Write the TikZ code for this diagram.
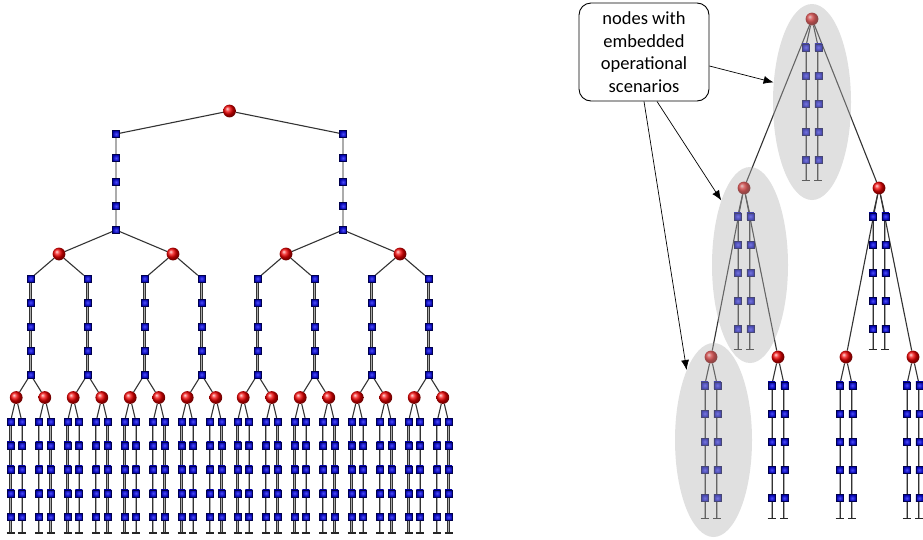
\documentclass[tikz,border=0pt]{standalone}
\usepackage{fontspec}
\setmainfont{Carlito}
\usetikzlibrary{arrows.meta,shapes.geometric}
\pgfdeclarelayer{bg}
\pgfdeclarelayer{fg}
\pgfsetlayers{bg,main,fg}
\tikzset{
  ballnode/.style={circle, inner sep=0pt, minimum size=12.8pt, shading=ball, ball color=red!95!black},
  sqnode/.style={rectangle, inner sep=0pt, minimum size=7pt, draw=blue!30!black, line width=0.4pt,
                 inner color=blue!70!white, outer color=blue!65!black},
  tube/.style={draw=black!80, line width=0.6pt, double=gray!65, double distance=1.1pt},
  twig/.style={draw=black!80, line width=1.1pt},
  endbar/.style={draw=black!85, line width=1.1pt},
  halo/.style={ellipse, inner sep=0pt, fill=black!30, fill opacity=0.4, draw=none},
  pointer/.style={draw=black, line width=0.7pt, -{Latex[length=10pt,width=8pt]}},
  callout/.style={draw=black, line width=0.9pt, rounded corners=12pt, minimum width=130pt,
                  minimum height=98pt, align=center, inner sep=0pt,
                  font=\fontsize{18.5}{22.5}\selectfont}
}
\begin{document}
\begin{tikzpicture}[x=1pt,y=-1pt]
\useasboundingbox (0,0) rectangle (923,539);

% ---------- binary tree with scenario chains between the decision nodes ----------
\node[ballnode] (L) at (229.5,111) {};
\foreach \ia/\xa in {1/116,2/343}{
  \foreach \k in {1,...,5} \node[sqnode] (L\ia-\k) at (\xa,{134+24*(\k-1)}) {};
  \foreach \ib/\pb in {1/-1,2/1}{
    \pgfmathsetmacro\xb{\xa+57*\pb}
    \node[ballnode] (L\ia\ib) at (\xb,254) {};
    \foreach \ic/\pc in {1/-1,2/1}{
      \pgfmathsetmacro\xc{\xb+28.5*\pc}
      \foreach \k in {1,...,5} \node[sqnode] (L\ia\ib\ic-\k) at (\xc,{278.5+24*(\k-1)}) {};
      \foreach \id/\pd in {1/-1,2/1}{
        \pgfmathsetmacro\xd{\xc+14.3*\pd}
        \node[ballnode] (L\ia\ib\ic\id) at (\xd,397.5) {};
        \foreach \ie/\pe in {1/-1,2/1}{
          \pgfmathsetmacro\xe{\xd+5.7*\pe}
          \foreach \k in {1,...,5} \node[sqnode] (L\ia\ib\ic\id\ie-\k) at (\xe,{421.5+23.9*(\k-1)}) {};
          \coordinate (L\ia\ib\ic\id\ie-end) at (\xe,533);
        }
      }
    }
  }
}

% ---------- tree with scenarios embedded in the nodes ----------
\foreach \n/\bx/\by in {T/812/19, Ta/744/188, Tb/879/188, Taa/711/357, Tab/778/357, Tba/846/357, Tbb/913/357}{
  \node[ballnode] (\n) at (\bx,\by) {};
  \foreach \ie/\pe in {1/-1,2/1}{
    \pgfmathsetmacro\xe{\bx+6.3*\pe}
    \foreach \k in {1,...,5} \node[sqnode] (\n-\ie-\k) at (\xe,{\by+28.3+28.2*(\k-1)}) {};
    \coordinate (\n-\ie-end) at (\xe,{\by+28.3+28.2*4+20});
  }
}

% ---------- connectors ----------
\begin{pgfonlayer}{bg}
\foreach \ia in {1,2}{
  \draw[twig] (L) -- (L\ia-1);
  \foreach \k [count=\kn from 2] in {1,...,4} \draw[tube] (L\ia-\k) -- (L\ia-\kn);
  \foreach \ib in {1,2}{
    \draw[twig] (L\ia-5) -- (L\ia\ib);
    \foreach \ic in {1,2}{
      \draw[twig] (L\ia\ib) -- (L\ia\ib\ic-1);
      \foreach \k [count=\kn from 2] in {1,...,4} \draw[tube] (L\ia\ib\ic-\k) -- (L\ia\ib\ic-\kn);
      \foreach \id in {1,2}{
        \draw[twig] (L\ia\ib\ic-5) -- (L\ia\ib\ic\id);
        \foreach \ie in {1,2}{
          \draw[twig] (L\ia\ib\ic\id) -- (L\ia\ib\ic\id\ie-1);
          \foreach \k [count=\kn from 2] in {1,...,4} \draw[tube] (L\ia\ib\ic\id\ie-\k) -- (L\ia\ib\ic\id\ie-\kn);
          \draw[tube] (L\ia\ib\ic\id\ie-5) -- (L\ia\ib\ic\id\ie-end);
          \draw[endbar] ([xshift=-4pt]L\ia\ib\ic\id\ie-end) -- ([xshift=4pt]L\ia\ib\ic\id\ie-end);
        }
      }
    }
  }
}
\foreach \n in {T,Ta,Tb,Taa,Tab,Tba,Tbb}{
  \foreach \ie in {1,2}{
    \draw[twig] (\n) -- (\n-\ie-1);
    \foreach \k [count=\kn from 2] in {1,...,4} \draw[tube] (\n-\ie-\k) -- (\n-\ie-\kn);
    \draw[tube] (\n-\ie-5) -- (\n-\ie-end);
    \draw[endbar] ([xshift=-4pt]\n-\ie-end) -- ([xshift=4pt]\n-\ie-end);
  }
}
\foreach \p/\q in {T/Ta,T/Tb,Ta/Taa,Ta/Tab,Tb/Tba,Tb/Tbb} \draw[twig] (\p) -- (\q);
\end{pgfonlayer}

% ---------- highlighted nodes and the callout ----------
\begin{pgfonlayer}{fg}
\node[halo, minimum width=78pt, minimum height=196pt] (H1) at (812,102) {};
\node[halo, minimum width=76pt, minimum height=196pt] (H2) at (750,265) {};
\node[halo, minimum width=77pt, minimum height=194pt] (H3) at (713.5,440) {};
\node[callout] (C) at (644,52) {nodes with\\embedded\\operational\\scenarios};
\draw[pointer] ([yshift=-14pt]C.east) -- (H1.153);
\draw[pointer] ([xshift=13pt]C.south) -- (H2.114);
\draw[pointer] (C.south) -- (H3.111);
\end{pgfonlayer}
\end{tikzpicture}
\end{document}
